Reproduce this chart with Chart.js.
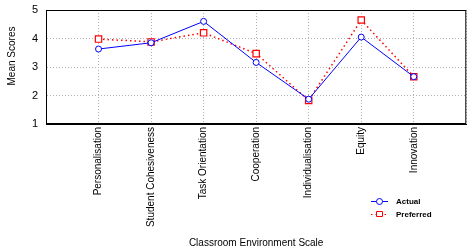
<!DOCTYPE html>
<html>
<head>
<meta charset="utf-8">
<script src="https://cdn.jsdelivr.net/npm/chart.js@4/dist/chart.umd.min.js"></script>
<style>
  body { margin: 0; background: #fff; }
  canvas { display: block; }
</style>
</head>
<body>
<canvas id="envChart" width="472" height="252"></canvas>
<script>
const categories = ["Personalisation", "Student Cohesiveness", "Task Orientation", "Cooperation",
  "Individualisation", "Equity", "Innovation"];
const actual = [3.63, 3.85, 4.60, 3.16, 1.87, 4.05, 2.66];
const preferred = [3.98, 3.88, 4.20, 3.47, 1.83, 4.65, 2.66];
const yTicks = [1, 2, 3, 4, 5];

const FONT = "'Liberation Sans', Arial, sans-serif";

// empty slot on each side so the categories sit inside the frame
const labels = ["", ...categories, ""];
const pad = arr => [null, ...arr, null];

// frame + y title + little legend under the plot
const extras = {
  id: "extras",
  afterDraw(chart) {
    const { ctx, chartArea: a } = chart;
    ctx.save();
    ctx.strokeStyle = "#000";
    ctx.lineWidth = 1;
    ctx.strokeRect(a.left + 0.5, a.top + 0.5, a.right - a.left - 1, a.bottom - a.top - 1);

    ctx.fillStyle = "#000";
    ctx.font = "10px " + FONT;
    ctx.textAlign = "center";
    ctx.textBaseline = "middle";
    ctx.translate(12, 56);
    ctx.rotate(-Math.PI / 2);
    ctx.fillText("Mean Scores", 0, 0);
    ctx.restore();

    ctx.save();
    chart.data.datasets.forEach((ds, i) => {
      const y = 201 + i * 13;
      ctx.strokeStyle = ds.borderColor;
      ctx.lineWidth = 1;
      ctx.setLineDash(ds.borderDash || []);
      ctx.beginPath();
      ctx.moveTo(371, y + 0.5);
      ctx.lineTo(388, y + 0.5);
      ctx.stroke();
      ctx.setLineDash([]);
      ctx.fillStyle = "#fff";
      ctx.beginPath();
      if (ds.pointStyle === "rect") ctx.rect(376.5, y - 2.5, 6, 5);
      else ctx.arc(379.5, y + 0.5, 3, 0, Math.PI * 2);
      ctx.fill();
      ctx.stroke();
      ctx.fillStyle = "#000";
      ctx.font = "bold 8px " + FONT;
      ctx.textAlign = "left";
      ctx.textBaseline = "middle";
      ctx.fillText(ds.label, 396, y + 1);
    });
    ctx.restore();
  }
};

new Chart(document.getElementById("envChart"), {
  type: "line",
  data: {
    labels,
    datasets: [{
      label: "Actual",
      data: pad(actual),
      borderColor: "#0000ff",
      borderWidth: 1,
      pointStyle: "circle",
      pointRadius: 3,
      pointBorderWidth: 1,
      pointBackgroundColor: "#fff",
      pointBorderColor: "#0000ff",
      tension: 0
    }, {
      label: "Preferred",
      data: pad(preferred),
      borderColor: "#ff0000",
      borderWidth: 1.5,
      borderDash: [1.5, 3],
      pointStyle: "rect",
      pointRadius: 4.5,
      pointBorderWidth: 1.2,
      pointBackgroundColor: "#fff",
      pointBorderColor: "#ff0000",
      tension: 0
    }]
  },
  options: {
    responsive: false,
    devicePixelRatio: 1,
    animation: false,
    layout: { padding: { top: 10, right: 2, left: 0, bottom: 0 } },
    plugins: { legend: { display: false }, tooltip: { enabled: false } },
    scales: {
      x: {
        offset: false,
        afterFit: s => { s.height = 128; s.paddingLeft = 0; s.paddingRight = 0; },
        grid: { color: "#b0b0b0", drawTicks: false },
        border: { color: "#000", dash: [1, 2] },
        ticks: {
          autoSkip: false,
          minRotation: 90,
          maxRotation: 90,
          padding: 3,
          color: "#000",
          font: { family: FONT, size: 10 }
        },
        title: {
          display: true,
          text: "Classroom Environment Scale",
          color: "#000",
          font: { family: FONT, size: 10 },
          padding: { top: 0, bottom: 3 }
        }
      },
      y: {
        min: 1,
        max: 5,
        afterFit: s => { s.width = 46; s.paddingTop = 0; s.paddingBottom = 0; },
        afterBuildTicks: s => { s.ticks = yTicks.map(v => ({ value: v })); },
        grid: { color: "#b0b0b0", drawTicks: false },
        border: { color: "#000", dash: [1, 2] },
        ticks: {
          padding: 8,
          color: "#000",
          font: { family: FONT, size: 11 }
        }
      }
    }
  },
  plugins: [extras]
});
</script>
</body>
</html>
